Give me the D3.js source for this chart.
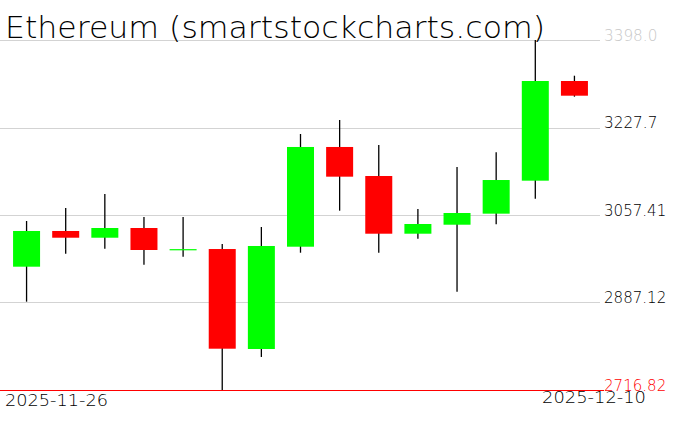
<!DOCTYPE html>
<html>
<head>
<meta charset="utf-8">
<script src="https://cdn.jsdelivr.net/npm/d3@7"></script>
<style>
  body { margin: 0; background: #fff; }
  svg { display: block; }
</style>
</head>
<body>
<div id="chart"></div>
<script>
// daily candles
const dates = ["2025-11-26", "2025-11-27", "2025-11-28", "2025-11-29", "2025-11-30",
  "2025-12-01", "2025-12-02", "2025-12-03", "2025-12-04", "2025-12-05",
  "2025-12-06", "2025-12-07", "2025-12-08", "2025-12-09", "2025-12-10"];
const opens  = [2956.8, 3026.3, 3013.2, 3032.1, 2990.5, 2991.2, 2796.6, 2995.7, 3189.8, 3133.3, 3021.0, 3038.5, 3060.0, 3124.2, 3318.2];
const highs  = [3045.7, 3071.0, 3098.3, 3053.5, 3053.5, 3001.0, 3034.1, 3215.1, 3242.3, 3193.6, 3069.1, 3150.8, 3179.4, 3398.0, 3328.5];
const lows   = [2888.7, 2982.1, 2991.8, 2960.7, 2976.3, 2716.82, 2781.1, 2984.0, 3065.8, 2984.0, 3011.3, 2908.1, 3039.3, 3089.1, 3287.7];
const closes = [3026.3, 3013.2, 3032.1, 2989.3, 2991.0, 2797.2, 2997.1, 3189.8, 3132.0, 3021.0, 3039.9, 3061.3, 3125.5, 3318.2, 3289.6];

const tickValues = [3398.0, 3227.7, 3057.41, 2887.12, 2716.82];
const tickLabels = ["3398.0", "3227.7", "3057.41", "2887.12", "2716.82"];
const dateLabels = ["2025-11-26", "2025-12-10"];

const width = 676, height = 431;

const svg = d3.select("#chart").append("svg")
    .attr("width", width)
    .attr("height", height);

const x = d3.scaleBand()
    .domain(dates)
    .range([7, 594])
    .padding(0);

const y = d3.scaleLinear()
    .domain([2716.82, 3398.0])
    .range([390, 40]);

const bodyW = x.bandwidth() * 0.69;

// thin lettering, roughly like the vector font of the original
const thin = sel => sel
    .style("font-family", "DejaVu Sans")
    .style("font-weight", 200)
    .attr("lengthAdjust", "spacingAndGlyphs");

// horizontal grid + labels on the right
tickValues.forEach((v, i) => {
    const isLow = i === tickValues.length - 1;
    const isTop = i === 0;
    svg.append("line")
        .attr("x1", 0)
        .attr("x2", isLow ? 604 : 600)
        .attr("y1", Math.round(y(v)) + 0.5)
        .attr("y2", Math.round(y(v)) + 0.5)
        .style("stroke", isLow ? "#ff0000" : "#d3d3d3")
        .style("stroke-width", 1);
    svg.append("text")
        .attr("x", 604)
        .attr("y", y(v) + 0.5)
        .attr("textLength", tickLabels[i].length * 8.9)
        .call(thin)
        .style("font-size", "15.5px")
        .style("fill", isLow ? "#ff0000" : (isTop ? "#c8c8c8" : "#000"))
        .text(tickLabels[i]);
});

// title
svg.append("text")
    .attr("x", 5)
    .attr("y", 38)
    .attr("textLength", 540)
    .call(thin)
    .style("font-size", "31px")
    .style("fill", "#000")
    .text("Ethereum (smartstockcharts.com)");

// candles
const candles = dates.map((d, i) => ({ date: d, o: opens[i], h: highs[i], l: lows[i], c: closes[i] }));

const g = svg.append("g");
g.selectAll(".wick")
    .data(candles)
    .join("line")
    .attr("class", "wick")
    .attr("x1", d => x(d.date) + x.bandwidth() / 2)
    .attr("x2", d => x(d.date) + x.bandwidth() / 2)
    .attr("y1", d => y(d.h))
    .attr("y2", d => y(d.l))
    .style("stroke", "#000")
    .style("stroke-width", 1.3);

g.selectAll(".body")
    .data(candles)
    .join("rect")
    .attr("class", "body")
    .attr("x", d => x(d.date) + (x.bandwidth() - bodyW) / 2)
    .attr("width", bodyW)
    .attr("y", d => y(Math.max(d.o, d.c)))
    .attr("height", d => Math.max(1.2, Math.abs(y(d.o) - y(d.c))))
    .style("fill", d => d.c >= d.o ? "#00ff00" : "#ff0000");

// date labels at the bottom
svg.append("text")
    .attr("x", 5)
    .attr("y", 406)
    .attr("textLength", 103)
    .call(thin)
    .style("font-size", "15px")
    .text(dateLabels[0]);

svg.append("text")
    .attr("x", 542)
    .attr("y", 403)
    .attr("textLength", 104)
    .call(thin)
    .style("font-size", "15px")
    .text(dateLabels[1]);
</script>
</body>
</html>
